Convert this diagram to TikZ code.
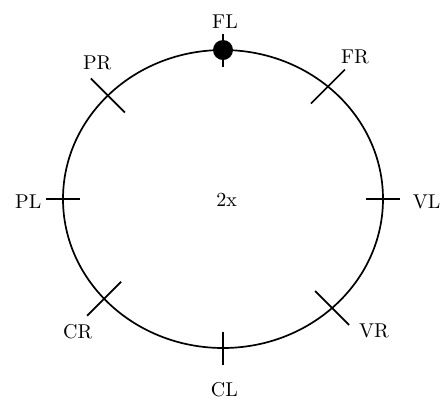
\documentclass[tikz,border=0pt]{standalone}
\usepackage{tikz}
\usetikzlibrary{positioning, calc}

\tikzset{
  ring line/.style={line width=0.85pt},
  pos label/.style={font=\fontsize{10}{12}\selectfont, inner sep=0pt},
}

\begin{document}
\begin{tikzpicture}[x=0.5pt, y=-0.5pt]
    \useasboundingbox (0,0) rectangle (440,404);
    \coordinate (c) at (223,199);
    \draw[ring line] (c) ellipse [x radius=160, y radius=149];

    % points on the ring
    \foreach \ang/\nm in {90/fl, 49/fr, 0/vl, 313/vr, 270/cl, 222/cr, 180/pl, 136/pr}
      \coordinate (p-\nm) at ({223+160*cos(\ang)},{199-149*sin(\ang)});

    % ticks
    \foreach \nm in {fl, cl}
      \draw[ring line] ($(p-\nm)+(0,-16.5)$) -- ($(p-\nm)+(0,16.5)$);
    \foreach \nm in {pl, vl}
      \draw[ring line] ($(p-\nm)+(-17,0)$) -- ($(p-\nm)+(17,0)$);
    \foreach \nm in {fr, cr}
      \draw[ring line] ($(p-\nm)+(-17,17)$) -- ($(p-\nm)+(17,-17)$);
    \foreach \nm in {pr, vr}
      \draw[ring line] ($(p-\nm)+(-17,-17)$) -- ($(p-\nm)+(17,17)$);
    \fill (p-fl) circle [radius=10];

    \node[pos label] (fl) at (225,21.7) {FL};
    \node[pos label] (fr) at (355,57) {FR};
    \node[pos label] (vl) at (426.7,201.7) {VL};
    \node[pos label] (vr) at (374,330.7) {VR};
    \node[pos label] (cl) at (224.3,390) {CL};
    \node[pos label] (cr) at (77.7,331.7) {CR};
    \node[pos label] (pl) at (28.3,201.7) {PL};
    \node[pos label] (pr) at (97.3,62.7) {PR};
    \node[pos label] (mid) at (226.7,200) {2x};
\end{tikzpicture}
\end{document}
